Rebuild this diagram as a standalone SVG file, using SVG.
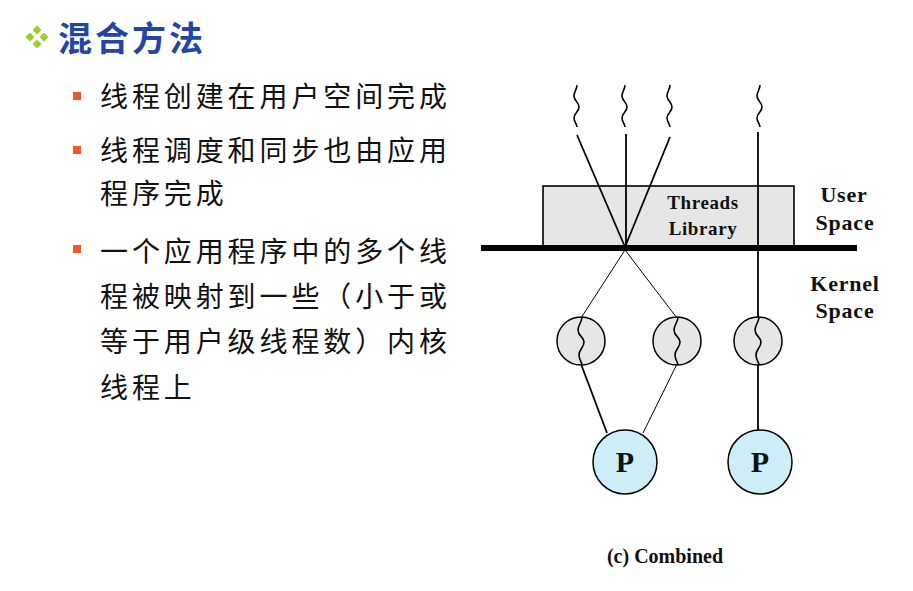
<svg xmlns="http://www.w3.org/2000/svg" width="913" height="591" viewBox="0 0 913 591">
<style>
.cjk{font-family:"Noto Sans CJK SC","Noto Sans",sans-serif;font-size:28px;fill:#111;letter-spacing:3.9px}
.title{font-family:"Noto Sans CJK SC","Noto Sans",sans-serif;font-size:34px;font-weight:bold;fill:#2146a8;letter-spacing:3px}
.lbl{font-family:"Liberation Serif","Times New Roman",serif;font-weight:bold;font-size:22px;fill:#111;text-anchor:middle;letter-spacing:0.8px}
.p{font-family:"Liberation Serif","Times New Roman",serif;font-weight:bold;font-size:30px;fill:#111;text-anchor:middle}
.bul{fill:#ea5a2b}
.sq{fill:none;stroke:#000;stroke-width:1.6}
.ln{stroke:#000;fill:none}
.kt{fill:#e6e6e6;stroke:#000;stroke-width:1.5}
.pc{fill:#cdeef9;stroke:#000;stroke-width:1.5}
</style>
<defs>
<path id="sq" d="M0,0 C0,4 -3,7 -3,11 C-3,16 2,17 2,22 C2,27 -3,28 -3,33 C-3,37 0,39 0,42"/>
<path id="sqc" d="M0,0 C0,5 -4,8 -4,13 C-4,19 2,20 2,25 C2,31 -3,32 -3,38 C-3,43 0,45 0,48"/>
<g id="dia"><path d="M0,-4.5 L4.5,0 L0,4.5 L-4.5,0Z" fill="#9acd32"/></g>
</defs>
<rect width="913" height="591" fill="#fff"/>
<g id="title">
<use href="#dia" x="37" y="30"/><use href="#dia" x="30" y="37"/><use href="#dia" x="44" y="37"/><use href="#dia" x="37" y="44"/>
<text class="title" x="58" y="51">混合方法</text>
</g>
<g id="bullets">
<rect class="bul" x="73" y="92" width="8" height="8"/>
<text class="cjk" x="100" y="107">线程创建在用户空间完成</text>
<rect class="bul" x="73" y="146" width="8" height="8"/>
<text class="cjk" x="100" y="161">线程调度和同步也由应用</text>
<text class="cjk" x="100" y="204">程序完成</text>
<rect class="bul" x="73" y="245" width="8" height="8"/>
<text class="cjk" x="100" y="262">一个应用程序中的多个线</text>
<text class="cjk" x="100" y="307">程被映射到一些（小于或</text>
<text class="cjk" x="100" y="352">等于用户级线程数）内核</text>
<text class="cjk" x="100" y="398">线程上</text>
</g>
<g id="library">
<rect x="543" y="186" width="251" height="60" fill="#e6e6e6" stroke="#000" stroke-width="1.6"/>
<text class="lbl" x="703" y="209" style="font-size:19px;letter-spacing:0.6px">Threads</text>
<text class="lbl" x="703" y="235" style="font-size:19px;letter-spacing:0.6px">Library</text>
</g>
<g id="user-threads">
<use class="sq" href="#sq" x="577" y="85"/>
<use class="sq" href="#sq" x="625" y="85"/>
<use class="sq" href="#sq" x="670" y="85"/>
<use class="sq" href="#sq" x="760" y="85"/>
</g>
<g id="connectors">
<line class="ln" x1="577" y1="135" x2="625" y2="247" stroke-width="1.8"/>
<line class="ln" x1="626" y1="134" x2="626" y2="247" stroke-width="1.8"/>
<line class="ln" x1="670" y1="137" x2="625" y2="247" stroke-width="1.8"/>
<line class="ln" x1="758" y1="132" x2="758" y2="317" stroke-width="1.8"/>
<line class="ln" x1="625" y1="250" x2="581" y2="318" stroke-width="1"/>
<line class="ln" x1="625" y1="250" x2="677" y2="318" stroke-width="1"/>
<line class="ln" x1="581" y1="364" x2="607" y2="433" stroke-width="1.8"/>
<line class="ln" x1="677" y1="364" x2="643" y2="433" stroke-width="1"/>
<line class="ln" x1="758" y1="364" x2="758" y2="431" stroke-width="1.8"/>
</g>
<g id="kernel-bar">
<rect x="481" y="245" width="376" height="6" fill="#000"/>
</g>
<g id="space-labels">
<text class="lbl" x="844" y="202">User</text>
<text class="lbl" x="845" y="230">Space</text>
<text class="lbl" x="845" y="291">Kernel</text>
<text class="lbl" x="845" y="318">Space</text>
</g>
<g id="kthread1"><circle class="kt" cx="581" cy="341" r="24"/><use class="sq" href="#sqc" x="582" y="317"/></g>
<g id="kthread2"><circle class="kt" cx="677" cy="341" r="24"/><use class="sq" href="#sqc" x="678" y="317"/></g>
<g id="kthread3"><circle class="kt" cx="758" cy="341" r="24"/><use class="sq" href="#sqc" x="759" y="317"/></g>
<g id="proc1"><circle class="pc" cx="625" cy="462" r="32"/><text class="p" x="625" y="472">P</text></g>
<g id="proc2"><circle class="pc" cx="760" cy="462" r="32"/><text class="p" x="760" y="472">P</text></g>
<g id="caption"><text class="lbl" x="665" y="563" style="font-size:20px;letter-spacing:0">(c) Combined</text></g>
</svg>
